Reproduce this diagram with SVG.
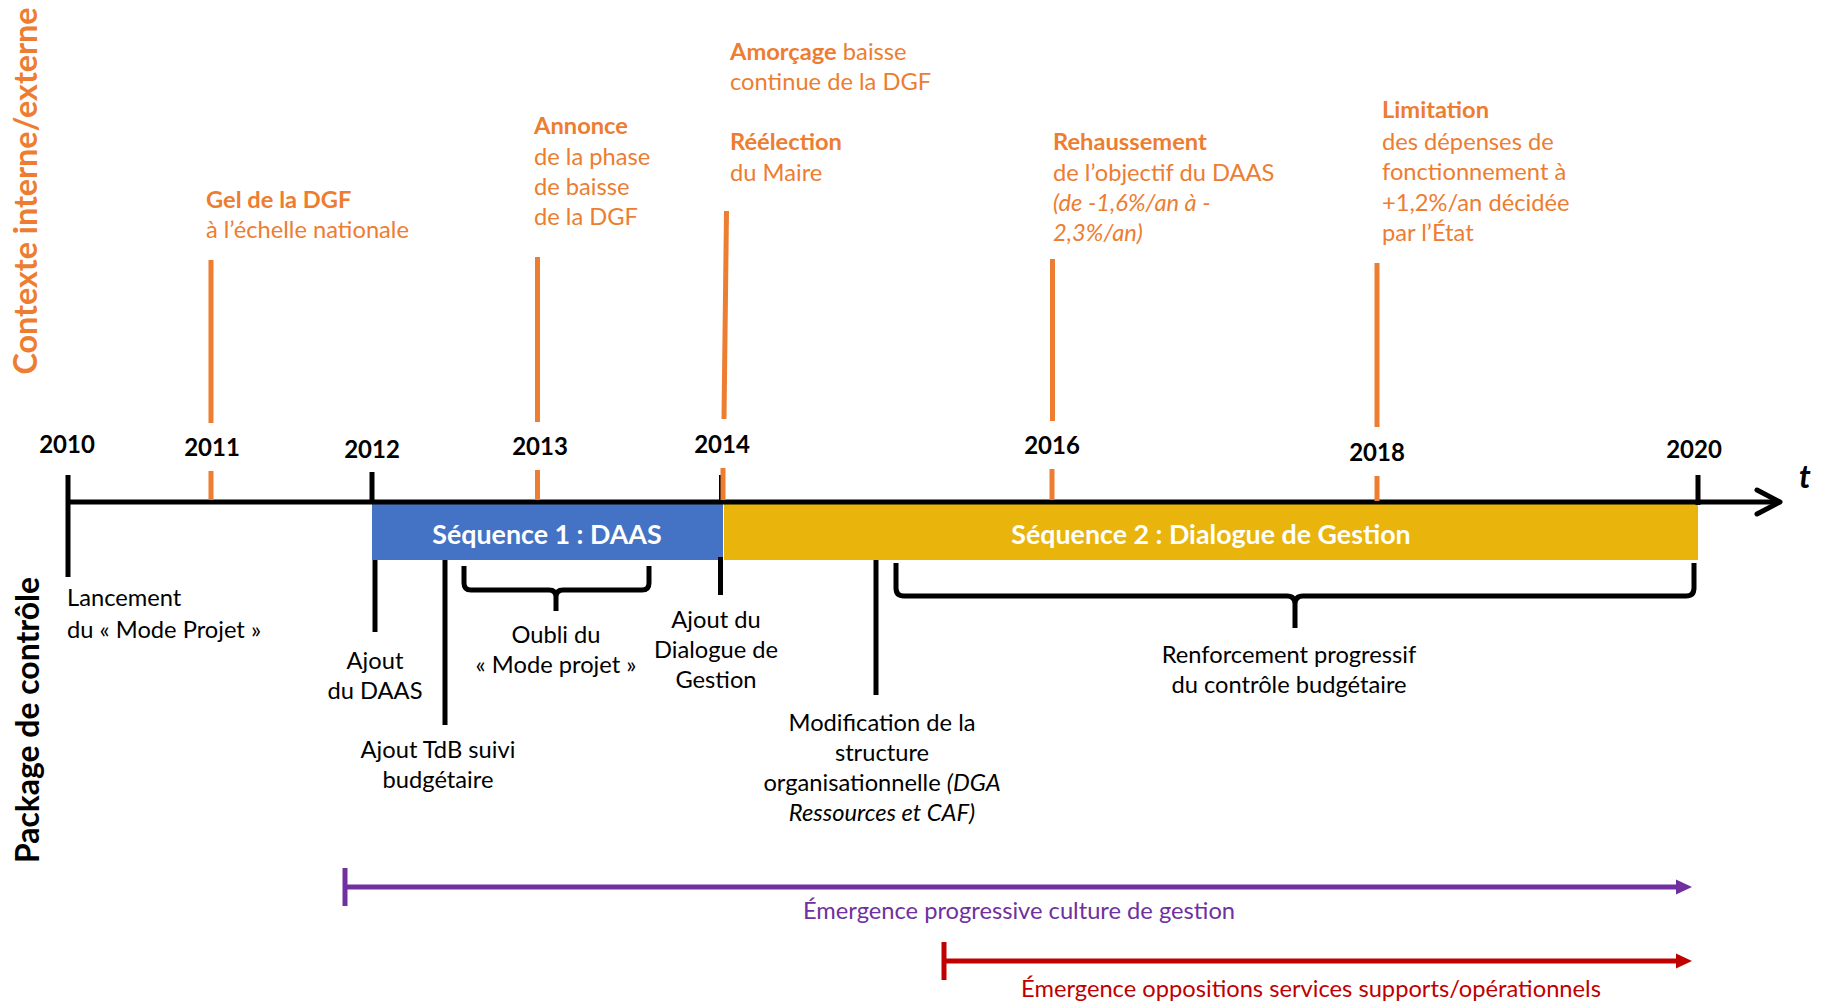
<svg xmlns="http://www.w3.org/2000/svg" width="1824" height="1005" viewBox="0 0 1824 1005">
<style>
text{font-family:Lato,"Open Sans","Liberation Sans",sans-serif;}
.yr{font-size:24px;font-weight:bold;fill:#000;text-anchor:middle;}
.or{font-size:23.7px;fill:#ED7D31;}
.b{font-weight:bold;}
.i{font-style:italic;}
.bk{font-size:23.7px;fill:#000;}
.mid{text-anchor:middle;}
.seq{font-size:26.8px;font-weight:bold;fill:#fff;text-anchor:middle;}
.side{font-size:32px;font-weight:bold;text-anchor:middle;}
.ol{stroke:#ED7D31;stroke-width:5;fill:none;}
.kl{stroke:#000;stroke-width:5;fill:none;}
.br{stroke:#000;stroke-width:5;fill:none;stroke-linejoin:round;}
</style>
<defs>
<marker id="ap" markerUnits="userSpaceOnUse" markerWidth="17" markerHeight="16" refX="1" refY="8" orient="auto"><path d="M0,0.5 L16,8 L0,15.5 z" fill="#7030A0"/></marker>
<marker id="ar" markerUnits="userSpaceOnUse" markerWidth="17" markerHeight="16" refX="1" refY="8" orient="auto"><path d="M0,0.5 L16,8 L0,15.5 z" fill="#C00000"/></marker>
</defs>
<rect width="1824" height="1005" fill="#fff"/>

<g id="side-labels">
<text class="side" fill="#ED7D31" transform="translate(37,191) rotate(-90)" textLength="367" lengthAdjust="spacingAndGlyphs">Contexte interne/externe</text>
<text class="side" fill="#000" transform="translate(39,720) rotate(-90)" textLength="286" lengthAdjust="spacingAndGlyphs">Package de contrôle</text>
</g>

<g id="seq1"><rect x="372" y="504" width="351" height="56" fill="#4472C4"/><text class="seq" x="547" y="544">Séquence 1 : DAAS</text></g>
<g id="seq2"><rect x="724" y="504" width="974" height="56" fill="#E9B40B"/><text class="seq" x="1211" y="544">Séquence 2 : Dialogue de Gestion</text></g>

<g id="connectors">
<line x1="66" y1="502" x2="1779" y2="502" class="kl"/>
<polyline points="1757,490 1780,502 1757,514" class="kl" stroke-linecap="round" stroke-linejoin="round"/>
<line x1="68" y1="475" x2="68" y2="577" class="kl"/>
<line x1="372" y1="472" x2="372" y2="502" class="kl"/>
<line x1="720" y1="475" x2="720" y2="502" stroke="#000" stroke-width="2"/>
<line x1="1698" y1="475" x2="1698" y2="505" class="kl"/>
<line x1="211" y1="471" x2="211" y2="500" class="ol"/>
<line x1="537.5" y1="470" x2="537.5" y2="500" class="ol"/>
<line x1="723" y1="468" x2="723" y2="500" class="ol"/>
<line x1="1052" y1="469" x2="1052" y2="500" class="ol"/>
<line x1="1377" y1="476" x2="1377" y2="501" class="ol"/>
<line x1="211" y1="260" x2="211" y2="423" class="ol"/>
<line x1="537.5" y1="257" x2="537.5" y2="422" class="ol"/>
<line x1="726.5" y1="211" x2="724" y2="419" class="ol"/>
<line x1="1052.5" y1="259" x2="1052.5" y2="421" class="ol"/>
<line x1="1377" y1="263" x2="1377" y2="427" class="ol"/>
<line x1="375" y1="560" x2="375" y2="632" class="kl"/>
<line x1="445" y1="560" x2="445" y2="725" class="kl"/>
<line x1="720.5" y1="557" x2="720.5" y2="595" class="kl"/>
<line x1="876" y1="560" x2="876" y2="695" class="kl"/>
<path class="br" d="M464,566 V583 Q464,590 471,590 H549 Q556,590 556,597 V611 M556,597 Q556,590 563,590 H642 Q649,590 649,583 V566"/>
<path class="br" d="M896,563 V588 Q896,596 904,596 H1287 Q1295,596 1295,604 V628 M1295,604 Q1295,596 1303,596 H1686 Q1694,596 1694,588 V563"/>
<line x1="345" y1="868" x2="345" y2="906" stroke="#7030A0" stroke-width="5"/>
<line x1="345" y1="887" x2="1677" y2="887" stroke="#7030A0" stroke-width="5" marker-end="url(#ap)"/>
<line x1="944" y1="942" x2="944" y2="980" stroke="#C00000" stroke-width="5"/>
<line x1="944" y1="961" x2="1677" y2="961" stroke="#C00000" stroke-width="5" marker-end="url(#ar)"/>
</g>

<g id="years">
<text class="yr" x="67" y="453">2010</text>
<text class="yr" x="212" y="456">2011</text>
<text class="yr" x="372" y="458">2012</text>
<text class="yr" x="540" y="455">2013</text>
<text class="yr" x="722" y="453">2014</text>
<text class="yr" x="1052" y="454">2016</text>
<text class="yr" x="1377" y="461">2018</text>
<text class="yr" x="1694" y="458">2020</text>
<text x="1799" y="488" font-size="32" font-weight="bold" font-style="italic" fill="#000">t</text>
</g>

<g id="ctx-gel"><text class="or" x="206"><tspan class="b" x="206" y="208">Gel de la DGF</tspan><tspan x="206" y="238">à l’échelle nationale</tspan></text></g>
<g id="ctx-annonce"><text class="or" x="534"><tspan class="b" x="534" y="134">Annonce</tspan><tspan x="534" y="165">de la phase</tspan><tspan x="534" y="195">de baisse</tspan><tspan x="534" y="225">de la DGF</tspan></text></g>
<g id="ctx-amorcage"><text class="or" x="730"><tspan x="730" y="60"><tspan class="b">Amorçage</tspan> baisse</tspan><tspan x="730" y="90">continue de la DGF</tspan></text></g>
<g id="ctx-reelection"><text class="or" x="730"><tspan class="b" x="730" y="150">Réélection</tspan><tspan x="730" y="181">du Maire</tspan></text></g>
<g id="ctx-rehaussement"><text class="or" x="1053"><tspan class="b" x="1053" y="150">Rehaussement</tspan><tspan x="1053" y="181">de l’objectif du DAAS</tspan><tspan class="i" x="1053" y="211">(de -1,6%/an à -</tspan><tspan class="i" x="1053" y="241">2,3%/an)</tspan></text></g>
<g id="ctx-limitation"><text class="or" x="1382"><tspan class="b" x="1382" y="118">Limitation</tspan><tspan x="1382" y="150">des dépenses de</tspan><tspan x="1382" y="180">fonctionnement à</tspan><tspan x="1382" y="211">+1,2%/an décidée</tspan><tspan x="1382" y="241">par l’État</tspan></text></g>

<g id="ev-lancement"><text class="bk"><tspan x="67" y="606">Lancement</tspan><tspan x="67" y="638">du « Mode Projet »</tspan></text></g>
<g id="ev-daas"><text class="bk mid"><tspan x="375" y="669">Ajout</tspan><tspan x="375" y="699">du DAAS</tspan></text></g>
<g id="ev-tdb"><text class="bk mid"><tspan x="438" y="758">Ajout TdB suivi</tspan><tspan x="438" y="788">budgétaire</tspan></text></g>
<g id="ev-oubli"><text class="bk mid"><tspan x="556" y="643">Oubli du</tspan><tspan x="556" y="673">« Mode projet »</tspan></text></g>
<g id="ev-dialogue"><text class="bk mid"><tspan x="716" y="628">Ajout du</tspan><tspan x="716" y="658">Dialogue de</tspan><tspan x="716" y="688">Gestion</tspan></text></g>
<g id="ev-modif"><text class="bk mid"><tspan x="882" y="731">Modification de la</tspan><tspan x="882" y="761">structure</tspan><tspan x="882" y="791">organisationnelle <tspan class="i">(DGA</tspan></tspan><tspan class="i" x="882" y="821">Ressources et CAF)</tspan></text></g>
<g id="ev-renforcement"><text class="bk mid"><tspan x="1289" y="663">Renforcement progressif</tspan><tspan x="1289" y="693">du contrôle budgétaire</tspan></text></g>

<g id="culture"><text x="1019" y="919" font-size="23.7" fill="#7030A0" text-anchor="middle">Émergence progressive culture de gestion</text></g>
<g id="oppositions"><text x="1311" y="997" font-size="23.7" fill="#C00000" text-anchor="middle">Émergence oppositions services supports/opérationnels</text></g>
</svg>
